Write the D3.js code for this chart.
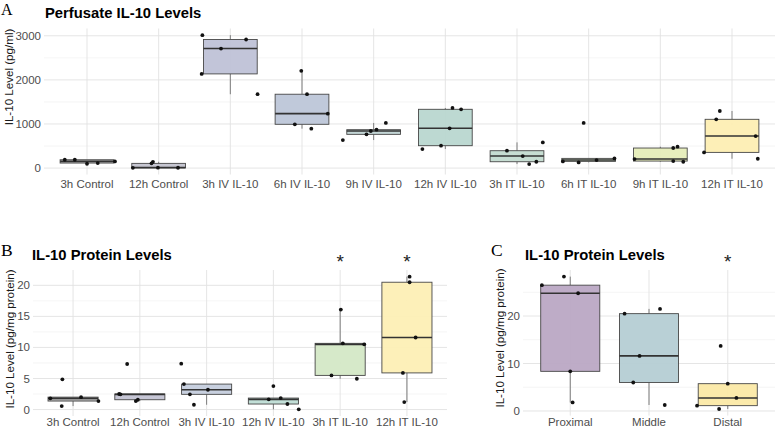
<!DOCTYPE html>
<html>
<head>
<meta charset="utf-8">
<script src="https://cdn.jsdelivr.net/npm/d3@7"></script>
<style>
  body { margin: 0; background: #fff; }
  svg { display: block; font-family: "Liberation Sans", Arial, sans-serif; }
</style>
</head>
<body>
<svg id="chart" width="776" height="429"></svg>
<script>
// ---- data ----
const aGroups = ["3h Control", "12h Control", "3h IV IL-10", "6h IV IL-10", "9h IV IL-10",
                 "12h IV IL-10", "3h IT IL-10", "6h IT IL-10", "9h IT IL-10", "12h IT IL-10"];
const aValues = [
  [189, 189, 98, 114, 152],
  [5, 107, 143, 10, 8],
  [3015, 2711, 2916, 2136, 1675],
  [2205, 1675, 1234, 993, 894],
  [636, 765, 841, 871, 1023],
  [432, 508, 902, 1364, 1333],
  [394, 273, 91, 144, 583],
  [152, 129, 1023, 182, 220],
  [205, 455, 485, 159, 144],
  [356, 1106, 1295, 727, 212]
];
// horizontal jitter of each point, in category widths
const aJitter = [
  [-0.31, -0.17, 0, 0.15, 0.39],
  [-0.36, -0.10, -0.08, -0.01, 0.27],
  [-0.39, -0.13, 0.22, -0.40, 0.38],
  [-0.01, 0.07, 0.36, -0.10, 0.13],
  [-0.43, -0.10, -0.04, 0.04, 0.17],
  [-0.32, -0.06, 0.06, 0.10, 0.22],
  [-0.14, 0.08, 0.17, 0.27, 0.36],
  [-0.36, -0.14, -0.07, 0.11, 0.36],
  [-0.36, 0.18, 0.24, 0.18, 0.32],
  [-0.39, -0.22, -0.17, 0.33, 0.36]
];
const aColors = ["#bdbdbd", "#c3c3cf", "#bfc2d7", "#bdc6d8", "#c0d3d3",
                 "#b9d7d0", "#c3dbd0", "#d3e5cb", "#e6edb9", "#fdeeb3"];
const aTicks = [0, 1000, 2000, 3000];
const aMinor = [500, 1500, 2500];

const bGroups = ["3h Control", "12h Control", "3h IV IL-10", "12h IV IL-10", "3h IT IL-10", "12h IT IL-10"];
const bValues = [
  [1.8, 0.56, 4.86, 2.0, 1.37],
  [2.5, 2.45, 7.33, 1.37, 1.58],
  [7.38, 4.1, 2.45, 0.77, 3.19],
  [3.78, 1.64, 1.85, 0.89, 0.03],
  [5.5, 16.1, 10.66, 4.96, 10.5],
  [5.9, 1.2, 21.4, 20.5, 11.6]
];
const bJitter = [
  [-0.34, -0.17, -0.16, 0.12, 0.38],
  [-0.31, -0.29, -0.19, -0.06, -0.03],
  [-0.38, -0.34, -0.25, -0.19, 0.02],
  [0.0, -0.07, 0.11, 0.21, 0.38],
  [-0.13, 0.01, 0.04, 0.25, 0.36],
  [-0.06, -0.04, 0.04, 0.04, 0.13]
];
const bColors = ["#b5b5b5", "#c3c3d3", "#c5cedd", "#bfddd5", "#d4e8c6", "#fdefb5"];
const bTicks = [0, 5, 10, 15, 20];
const bMinor = [2.5, 7.5, 12.5, 17.5];
const bStars = ["3h IT IL-10", "12h IT IL-10"];

const cGroups = ["Proximal", "Middle", "Distal"];
const cValues = [
  [26.5, 28.3, 24.8, 8.35, 1.8],
  [20.5, 21.5, 11.6, 6.0, 1.26],
  [13.7, 5.75, 2.74, 1.12, 0.42]
];
const cJitter = [
  [-0.36, -0.08, 0.10, 0.0, 0.03],
  [-0.31, 0.14, -0.12, -0.20, 0.20],
  [-0.09, 0.0, 0.11, -0.39, -0.11]
];
const cColors = ["#bba8c4", "#b5ced4", "#fbe9a6"];
const cTicks = [0, 10, 20];
const cMinor = [5, 15, 25];
const cStars = ["Distal"];

const svg = d3.select("#chart");

// box stats like ggplot's stat_boxplot (type 7 quantiles, 1.5 IQR whiskers)
const boxStats = vals => {
  const s = vals.slice().sort(d3.ascending);
  const q1 = d3.quantile(s, 0.25), med = d3.quantile(s, 0.5), q3 = d3.quantile(s, 0.75);
  const iqr = q3 - q1;
  const lo = d3.min(s.filter(v => v >= q1 - 1.5 * iqr));
  const hi = d3.max(s.filter(v => v <= q3 + 1.5 * iqr));
  return {q1, med, q3, lo, hi};
};

const drawPanel = p => {
  const all = p.values.flat();
  const [mn, mx] = d3.extent(all);
  const pad = (mx - mn) * 0.05;

  const x = d3.scalePoint().domain(p.groups).range([p.left, p.right]).padding(0.6);
  const y = d3.scaleLinear().domain([mn - pad, mx + pad]).range([p.bottom, p.top]);
  const step = x.step();
  const g = svg.append("g");

  // grid
  g.selectAll(".minor").data(p.minor).join("line")
    .attr("x1", p.left).attr("x2", p.right)
    .attr("y1", d => y(d)).attr("y2", d => y(d))
    .attr("stroke", "#efefef").attr("stroke-width", 0.6);
  g.selectAll(".major").data(p.ticks).join("line")
    .attr("x1", p.left).attr("x2", p.right)
    .attr("y1", d => y(d)).attr("y2", d => y(d))
    .attr("stroke", "#e2e2e2").attr("stroke-width", 0.9);
  g.selectAll(".vgrid").data(p.groups).join("line")
    .attr("x1", d => x(d)).attr("x2", d => x(d))
    .attr("y1", p.top).attr("y2", p.bottom)
    .attr("stroke", "#e2e2e2").attr("stroke-width", 0.9);

  // boxes
  const bw = step * 0.75;
  p.groups.forEach((grp, i) => {
    const st = boxStats(p.values[i]);
    const cx = x(grp);
    g.append("line").attr("x1", cx).attr("x2", cx)
      .attr("y1", y(st.q3)).attr("y2", y(st.hi))
      .attr("stroke", "#707070").attr("stroke-width", 0.9);
    g.append("line").attr("x1", cx).attr("x2", cx)
      .attr("y1", y(st.q1)).attr("y2", y(st.lo))
      .attr("stroke", "#707070").attr("stroke-width", 0.9);
    g.append("rect")
      .attr("x", cx - bw / 2).attr("width", bw)
      .attr("y", y(st.q3)).attr("height", Math.max(0.5, y(st.q1) - y(st.q3)))
      .attr("fill", p.colors[i]).attr("fill-opacity", 0.95)
      .attr("stroke", "#474747").attr("stroke-width", 0.9);
    g.append("line").attr("x1", cx - bw / 2).attr("x2", cx + bw / 2)
      .attr("y1", y(st.med)).attr("y2", y(st.med))
      .attr("stroke", "#333").attr("stroke-width", 1.6);
  });

  // jittered points
  p.groups.forEach((grp, i) => {
    g.selectAll(null).data(p.values[i]).join("circle")
      .attr("cx", (d, j) => x(grp) + p.jitter[i][j] * step)
      .attr("cy", d => y(d))
      .attr("r", 1.9)
      .attr("fill", "#111");
  });

  // axes text
  g.selectAll(".ytick").data(p.ticks).join("text")
    .attr("x", p.left - 3).attr("y", d => y(d))
    .attr("dy", "0.35em").attr("text-anchor", "end")
    .attr("font-size", 11.5).attr("fill", "#4d4d4d")
    .text(d => d);
  g.selectAll(".xtick").data(p.groups).join("text")
    .attr("x", d => x(d)).attr("y", Math.min(p.bottom + 13, 426))
    .attr("text-anchor", "middle")
    .attr("font-size", 11.5).attr("fill", "#4d4d4d")
    .text(d => d);

  g.append("text")
    .attr("transform", `translate(${p.ylabX},${p.ylabY}) rotate(-90)`)
    .attr("text-anchor", "middle").attr("dy", "0.35em")
    .attr("font-size", 11.6).attr("fill", "#1a1a1a")
    .text(p.ylab);

  g.append("text")
    .attr("x", p.titleX).attr("y", p.titleY)
    .attr("font-size", 14.8).attr("font-weight", "bold").attr("fill", "#000")
    .text(p.title);

  g.append("text")
    .attr("x", p.letterX).attr("y", p.letterY)
    .attr("font-family", "'Liberation Serif', 'Times New Roman', serif")
    .attr("font-size", p.letterSize).attr("fill", "#000")
    .text(p.letter);

  g.selectAll(".star").data(p.stars || []).join("text")
    .attr("x", d => x(d)).attr("y", p.top - 2)
    .attr("text-anchor", "middle")
    .attr("font-size", 19).attr("fill", "#222")
    .text("*");
};

drawPanel({groups: aGroups, values: aValues, jitter: aJitter, colors: aColors,
  ticks: aTicks, minor: aMinor, left: 44, right: 775, top: 28.5, bottom: 174.5,
  ylab: "IL-10 Level (pg/ml)", ylabX: 9, ylabY: 77, title: "Perfusate IL-10 Levels",
  titleX: 45, titleY: 18, letter: "A", letterX: 1, letterY: 14.5, letterSize: 16});

drawPanel({groups: bGroups, values: bValues, jitter: bJitter, colors: bColors,
  ticks: bTicks, minor: bMinor, stars: bStars, left: 33, right: 447, top: 270, bottom: 416,
  ylab: "IL-10 Level (pg/mg protein)", ylabX: 10, ylabY: 339, title: "IL-10 Protein Levels",
  titleX: 32, titleY: 259.5, letter: "B", letterX: 1, letterY: 256, letterSize: 17.5});

drawPanel({groups: cGroups, values: cValues, jitter: cJitter, colors: cColors,
  ticks: cTicks, minor: cMinor, stars: cStars, left: 523, right: 775, top: 270, bottom: 415.6,
  ylab: "IL-10 Level (pg/mg protein)", ylabX: 500, ylabY: 338, title: "IL-10 Protein Levels",
  titleX: 525, titleY: 259.5, letter: "C", letterX: 491, letterY: 256, letterSize: 17.5});
</script>
</body>
</html>
